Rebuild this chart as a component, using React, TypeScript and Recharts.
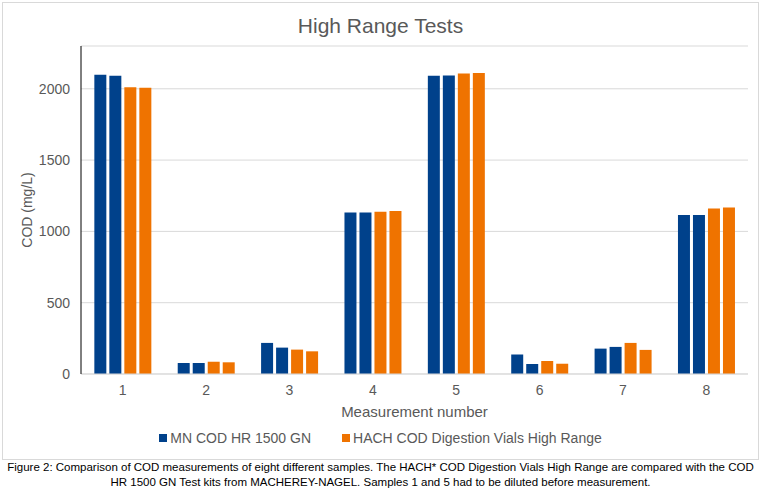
import { Bar, BarChart, CartesianGrid, Legend, XAxis, YAxis } from "recharts"

const categories = ["1", "2", "3", "4", "5", "6", "7", "8"]
const mnA = [2098, 77, 218, 1133, 2091, 136, 178, 1115]
const mnB = [2091, 77, 185, 1133, 2093, 70, 190, 1115]
const hachA = [2011, 86, 171, 1138, 2108, 91, 218, 1161]
const hachB = [2007, 82, 159, 1143, 2110, 72, 169, 1168]
const yTicks = [0, 500, 1000, 1500, 2000]

const data = categories.map((c, i) => ({
  sample: c,
  mnA: mnA[i],
  mnB: mnB[i],
  hachA: hachA[i],
  hachB: hachB[i],
}))

const BLUE = "#00418b"
const ORANGE = "#ef7300"
const TEXT = "#595959"
const FONT = "'Liberation Sans', Arial, sans-serif"

const legendItems = [
  { label: "MN COD HR 1500 GN", color: BLUE },
  { label: "HACH COD Digestion Vials High Range", color: ORANGE },
]

function ChartLegend() {
  return (
    <div
      style={{
        display: "flex",
        justifyContent: "center",
        gap: 31,
        fontSize: 14,
        color: TEXT,
        fontFamily: FONT,
      }}
    >
      {legendItems.map((it) => (
        <span key={it.label} style={{ display: "flex", alignItems: "center" }}>
          <span
            style={{
              width: 8,
              height: 8,
              background: it.color,
              marginRight: 3,
              display: "inline-block",
            }}
          />
          {it.label}
        </span>
      ))}
    </div>
  )
}

export default function App() {
  return (
    <div
      style={{
        position: "absolute",
        left: 0,
        top: 0,
        width: 761,
        height: 498,
        background: "#fff",
        fontFamily: FONT,
      }}
    >
      <div
        style={{
          position: "absolute",
          left: 2,
          top: 2,
          width: 755,
          height: 456,
          border: "1px solid #d9d9d9",
        }}
      />
      <div
        style={{
          position: "absolute",
          left: 0,
          top: 14,
          width: 761,
          textAlign: "center",
          fontSize: 21,
          color: TEXT,
        }}
      >
        High Range Tests
      </div>
      <div style={{ position: "absolute", left: 0, top: 0 }}>
        <BarChart
          width={761}
          height={460}
          data={data}
          margin={{ top: 46, right: 13, left: 0, bottom: 41 }}
          barCategoryGap="16%"
          barGap={3}
        >
          <CartesianGrid vertical={false} stroke="#d9d9d9" />
          <XAxis
            dataKey="sample"
            height={45}
            axisLine={{ stroke: "#d9d9d9" }}
            tickLine={false}
            tick={{ fontSize: 14, fill: TEXT, fontFamily: FONT }}
            tickMargin={5}
            label={{
              value: "Measurement number",
              position: "insideBottom",
              offset: 2,
              style: { fontSize: 15, fill: TEXT, fontFamily: FONT },
            }}
          />
          <XAxis
            xAxisId="top"
            orientation="top"
            dataKey="sample"
            height={0}
            tick={false}
            tickLine={false}
            axisLine={{ stroke: "#000" }}
          />
          <YAxis
            width={81}
            domain={[0, 2300]}
            ticks={yTicks}
            axisLine={{ stroke: "#000" }}
            tickLine={false}
            tick={{ fontSize: 14, fill: TEXT, fontFamily: FONT }}
            tickMargin={5}
            label={{
              value: "COD (mg/L)",
              angle: -90,
              position: "insideLeft",
              offset: 27,
              style: {
                fontSize: 14,
                fill: TEXT,
                fontFamily: FONT,
                textAnchor: "middle",
              },
            }}
          />
          <YAxis
            yAxisId="right"
            orientation="right"
            width={0}
            domain={[0, 2300]}
            tick={false}
            tickLine={false}
            axisLine={{ stroke: "#000" }}
          />
          <Legend
            layout="horizontal"
            verticalAlign="middle"
            align="center"
            wrapperStyle={{ top: 430, left: 0, width: 761 }}
            content={() => <ChartLegend />}
          />
          <Bar dataKey="mnA" fill={BLUE} isAnimationActive={false} />
          <Bar dataKey="mnB" fill={BLUE} isAnimationActive={false} />
          <Bar dataKey="hachA" fill={ORANGE} isAnimationActive={false} />
          <Bar dataKey="hachB" fill={ORANGE} isAnimationActive={false} />
        </BarChart>
      </div>
      <div
        style={{
          position: "absolute",
          left: 0,
          top: 460,
          width: 761,
          textAlign: "center",
          fontSize: 11.5,
          lineHeight: "15px",
          color: "#000",
        }}
      >
        Figure 2: Comparison of COD measurements of eight different samples. The
        HACH* COD Digestion Vials High Range are compared with the COD
        <br />
        HR 1500 GN Test kits from MACHEREY-NAGEL. Samples 1 and 5 had to be
        diluted before measurement.
      </div>
    </div>
  )
}
